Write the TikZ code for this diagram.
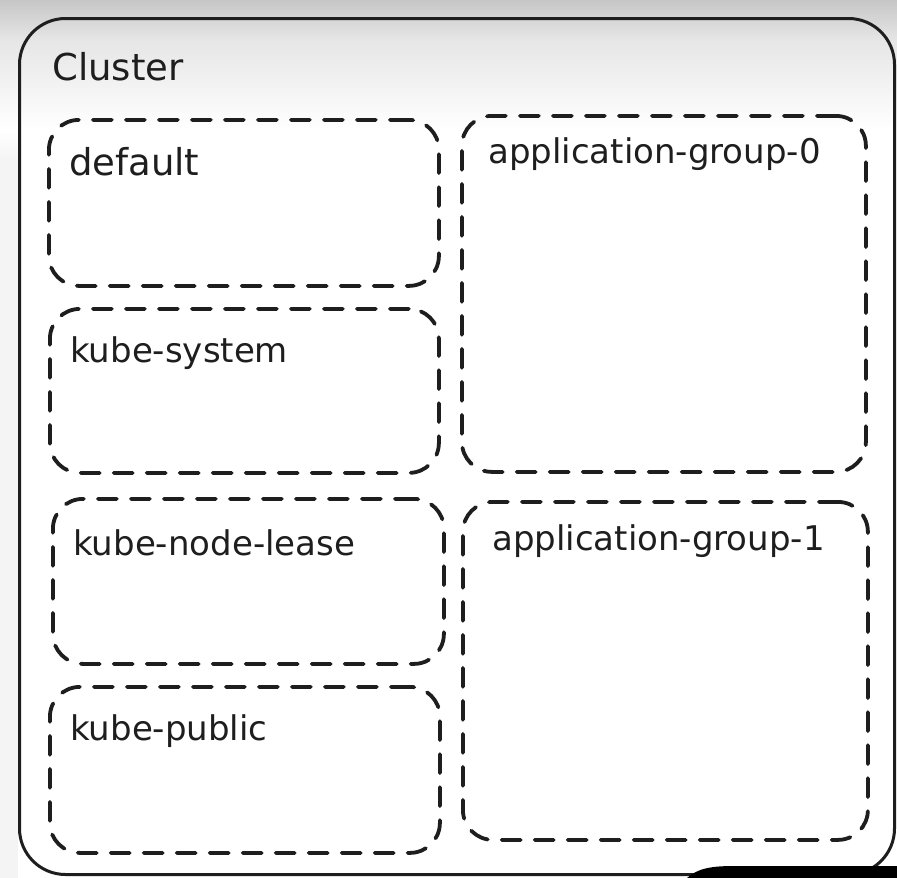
\documentclass[tikz,border=0pt]{standalone}
\usepackage{fontspec}
\setmainfont{DejaVu Sans}
\definecolor{ink}{HTML}{1E1E1E}
\definecolor{topgray}{HTML}{C6C6C6}
\definecolor{midgray}{HTML}{E6E6E6}
\definecolor{sidegray}{HTML}{F4F4F4}
\begin{document}
\begin{tikzpicture}[x=1pt,y=-1pt,
  nsbox/.style={draw=ink, line width=3.8pt, dash pattern=on 19pt off 14pt,
    line cap=round, rounded corners=30pt, inner sep=0pt, anchor=north west},
  outerbox/.style={draw=ink, line width=3pt, rounded corners=46pt,
    inner sep=0pt, anchor=north west},
  lbl/.style={font=\fontsize{34}{40}\selectfont, text=ink, inner sep=0pt,
    anchor=base west},
  biglbl/.style={lbl, font=\fontsize{37}{44}\selectfont}]
\useasboundingbox (0,0) rectangle (897,878);
% background vignette
\fill[white] (0,0) rectangle (897,878);
\shade[top color=topgray, bottom color=midgray] (0,0) rectangle (897,40);
\shade[top color=midgray, bottom color=white] (0,40) rectangle (897,130);
\shade[top color=white, bottom color=sidegray] (0,130) rectangle (18,160);
\fill[sidegray] (0,160) rectangle (18,878);
% outer cluster
\node[outerbox, minimum width=875pt, minimum height=856pt] (cluster) at (18,17) {};
\node[biglbl] (lcluster) at (52,80) {Cluster};
% left column namespaces
\node[nsbox, minimum width=390pt, minimum height=166pt] (default) at (47,118) {};
\node[biglbl] (ldefault) at (69,175) {default};
\node[nsbox, minimum width=389pt, minimum height=164pt] (kubesystem) at (48,307) {};
\node[lbl] (lkubesystem) at (70,362) {kube-system};
\node[nsbox, minimum width=391pt, minimum height=165pt] (kubenodelease) at (51,497) {};
\node[lbl] (lkubenodelease) at (73,555) {kube-node-lease};
\node[nsbox, minimum width=390pt, minimum height=166pt] (kubepublic) at (48,685) {};
\node[lbl] (lkubepublic) at (70,740) {kube-public};
% right column groups
\node[nsbox, minimum width=404pt, minimum height=356pt] (appzero) at (460,114) {};
\node[lbl] (lappzero) at (488,163) {application-group-0};
\node[nsbox, minimum width=405pt, minimum height=338pt] (appone) at (461,500) {};
\node[lbl] (lappone) at (492,550) {application-group-1};
% dark overlay at bottom right
\fill[black] (687,878) .. controls (698,868) and (712,866) .. (735,866) -- (897,866) -- (897,878) -- cycle;
\end{tikzpicture}
\end{document}
